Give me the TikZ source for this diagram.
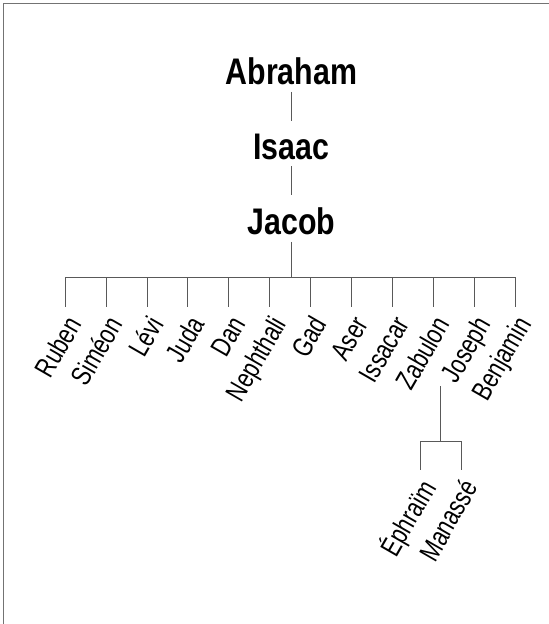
\documentclass[tikz,border=0pt]{standalone}
\usepackage{fontspec}
\setmainfont{Liberation Sans}
\newfontfamily\titlefont[FakeStretch=0.82]{Liberation Sans}
\newfontfamily\namefont[FakeStretch=0.77]{Liberation Sans}
\usetikzlibrary{positioning}

\tikzset{
	patriarch/.style={font=\titlefont\bfseries\fontsize{37}{40}\selectfont,inner sep=6.5pt},
	son/.style={font=\namefont\fontsize{28}{32}\selectfont,rotate=60,anchor=north east,
		inner xsep=6.3pt,inner ysep=2pt,text height=21.6pt,text depth=6pt},
	link/.style={draw=black!65,line width=0.9pt}
}

\begin{document}
\begin{tikzpicture}[x=1pt,y=1pt,node distance=75pt]
	\useasboundingbox (0,0) rectangle (549,624);
	\draw[black!55,line width=1.3pt] (3.5,0) -- (3.5,620.5) -- (549,620.5);

	\node[patriarch] (Abraham) at (291.5,552.3) {Abraham};
	\node[patriarch] (Isaac) [below of=Abraham] {Isaac};
	\node[patriarch] (Jacob) [below of=Isaac] {Jacob};
	\coordinate (fork) at (291.5,346.7);

	\foreach \n/\t [count=\i] in {ruben/Ruben,simeon/Siméon,levi/Lévi,juda/Juda,dan/Dan,nephthali/Nephthali,gad/Gad,aser/Aser,issacar/Issacar,zabulon/Zabulon,joseph/Joseph,benjamin/Benjamin}
		\node[son] (\n) at ({65.3+40.88*(\i-1)},317.3) {\t};

	\path[link,shorten >=6pt] (Abraham) edge (Isaac)
	                          (Isaac)   edge (Jacob);
	\draw[link] (Jacob) -- (fork);
	\foreach \n in {ruben,simeon,levi,juda,dan,nephthali,gad,aser,issacar,zabulon,joseph,benjamin}
		\draw[link] (\n.north east) |- (fork);

	\coordinate (jfork) at (440.7,182.3);
	\node[son] (ephraim) at ([shift={(-20.7,-28.3)}]jfork) {Éphraïm};
	\node[son] (manasse) at ([shift={(20.7,-28.3)}]jfork) {Manassé};
	\draw[link] (joseph.west -| jfork) -- (jfork);
	\draw[link] (ephraim.north east) |- (jfork);
	\draw[link] (manasse.north east) |- (jfork);
\end{tikzpicture}
\end{document}
